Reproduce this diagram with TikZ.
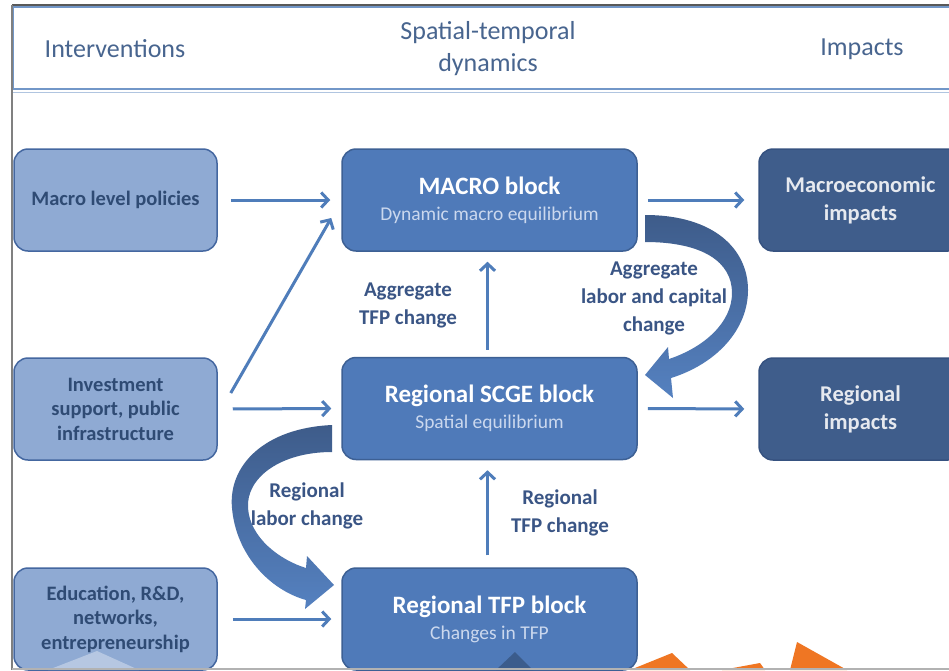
\documentclass[tikz,border=0pt]{standalone}
\usepackage{fontspec}
\setmainfont{Carlito}
\usetikzlibrary{arrows.meta}
\definecolor{lightfill}{HTML}{8FAAD3}
\definecolor{lightborder}{HTML}{4467A0}
\definecolor{lighttext}{HTML}{2F4B74}
\definecolor{midfill}{HTML}{4F7AB9}
\definecolor{midborder}{HTML}{3D6094}
\definecolor{subtxt}{HTML}{CBD8EE}
\definecolor{darkfill}{HTML}{3F5D8B}
\definecolor{darkborder}{HTML}{365280}
\definecolor{darktext}{HTML}{E6E9EF}
\definecolor{arrowblue}{HTML}{4F7DBA}
\definecolor{labeltext}{HTML}{3A5585}
\definecolor{headtext}{HTML}{48658F}
\definecolor{bandtop}{HTML}{3E5C8A}
\definecolor{bandbot}{HTML}{5581C0}
\definecolor{orangec}{HTML}{EF7623}
\begin{document}
\begin{tikzpicture}[x=1pt,y=-1pt,
  leftbox/.style={draw=lightborder,fill=lightfill,line width=1.5pt,rounded corners=14pt,
    minimum width=203pt,minimum height=102pt,inner sep=0pt,align=center,text=lighttext,
    font=\bfseries\fontsize{20.5}{24.5}\selectfont},
  midbox/.style={draw=midborder,fill=midfill,line width=1.5pt,rounded corners=14pt,
    minimum width=295pt,minimum height=102pt,inner sep=0pt,align=center,text=white,
    font=\fontsize{19.5}{26}\selectfont},
  rightbox/.style={draw=darkborder,fill=darkfill,line width=1.5pt,rounded corners=14pt,
    minimum width=203pt,minimum height=102pt,inner sep=0pt,align=center,text=darktext,
    font=\bfseries\fontsize{22.5}{28}\selectfont},
  lbl/.style={align=center,text=labeltext,inner sep=0pt,font=\bfseries\fontsize{21}{28}\selectfont},
  headlbl/.style={align=center,text=headtext,inner sep=0pt,font=\fontsize{26}{32}\selectfont},
  conn/.style={draw=arrowblue,line width=3pt,-{Straight Barb[length=7pt,width=15pt]}},
  bigarrow/.style={top color=bandtop,bottom color=bandbot,draw=none}
]
\useasboundingbox (0,0) rectangle (949,670);
\clip (0,0) rectangle (949,670);
\fill[white] (0,0) rectangle (949,670);

% header
\draw[draw=arrowblue!80,line width=1.5pt] (13,7) rectangle (970,89);
\draw[draw=arrowblue!45,line width=1pt] (13,92) -- (970,92);
\draw[draw=black!65,line width=2pt] (12,5) -- (949,5);
\draw[draw=black!50,line width=2pt] (12,5) -- (12,670);
\node[headlbl] (hint) at (115,49) {Interventions};
\node[headlbl] (hdyn) at (488,49) {Spatial-temporal\\dynamics};
\node[headlbl] (himp) at (862,49) {Impacts};

% boxes
\node[leftbox] (mlp) at (115.5,200) {Macro level policies};
\node[leftbox] (inv) at (115.5,409) {Investment\\support, public\\infrastructure};
\node[leftbox] (edu) at (115.5,619) {Education, R\&D,\\networks,\\entrepreneurship};

\node[midbox] (macro) at (489.5,200) {{\bfseries\fontsize{25}{28}\selectfont MACRO block}\\{\color{subtxt}Dynamic macro equilibrium}};
\node[midbox] (scge) at (489.5,408.5) {{\bfseries\fontsize{25}{28}\selectfont Regional SCGE block}\\{\color{subtxt}Spatial equilibrium}};
\node[midbox] (tfp) at (489.5,619) {{\bfseries\fontsize{25}{28}\selectfont Regional TFP block}\\{\color{subtxt}Changes in TFP}};

\node[rightbox] (mimp) at (860.5,200) {Macroeconomic\\impacts};
\node[rightbox] (rimp) at (860.5,409) {Regional\\impacts};

% straight connectors
\draw[conn,shorten <=13pt,shorten >=11pt] (mlp.east) -- (macro.west);
\draw[conn] ([shift={(13pt,16pt)}]inv.east) -- ([shift={(-10pt,-18pt)}]macro.west);
\draw[conn,shorten <=15pt,shorten >=10pt] (inv.east) -- (scge.west);
\draw[conn,shorten <=15pt,shorten >=10pt] (edu.east) -- (tfp.west);
\draw[conn,shorten <=10pt,shorten >=14pt] (macro.east) -- (mimp.west);
\draw[conn,shorten <=10pt,shorten >=14pt] (scge.east) -- (rimp.west);
\draw[conn,shorten <=7pt,shorten >=10pt] ([xshift=-2pt]scge.north) -- ([xshift=-2pt]macro.south);
\draw[conn,shorten <=12pt,shorten >=10pt] ([xshift=-2pt]tfp.north) -- ([xshift=-2pt]scge.south);

% curved block arrows
\path[bigarrow] (645,215) .. controls (715,215) and (748,250) .. (748,290)
  .. controls (748,330) and (716,364) .. (671,378) -- (673,398) -- (645,375) -- (668,347)
  -- (669,359) .. controls (705,347) and (732,322) .. (732,293)
  .. controls (732,262) and (703,242) .. (645,242) -- cycle;
\path[bigarrow] (332,425) .. controls (265,428) and (228,465) .. (232,508)
  .. controls (236,555) and (270,590) .. (306,600) -- (305,609) -- (334,585) -- (307,556)
  -- (306,568) .. controls (280,560) and (250,538) .. (248,508)
  .. controls (246,478) and (280,452) .. (332,452) -- cycle;

% labels
\node[lbl] (l1) at (408,305) {Aggregate\\TFP change};
\node[lbl] (l2) at (654,298) {Aggregate\\labor and capital\\change};
\node[lbl] (l3) at (307,506) {Regional\\labor change};
\node[lbl] (l4) at (560,513) {Regional\\TFP change};

% bottom fragments
\fill[white,opacity=0.35] (48,670) -- (97,651) -- (139,670) -- cycle;
\fill[black!40!midfill,opacity=0.6] (496,670) -- (515,652) -- (533,670) -- cycle;
\fill[orangec] (630,670) -- (672,653) -- (690,670) -- cycle;
\fill[orangec] (722,670) -- (760,663) -- (765,670) -- cycle;
\fill[orangec] (790,670) -- (797,642) -- (847,670) -- cycle;
\draw[black!30,line width=1.2pt] (12,669) -- (949,669);
\end{tikzpicture}
\end{document}
